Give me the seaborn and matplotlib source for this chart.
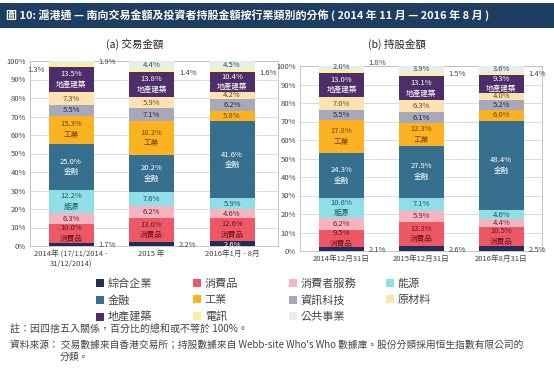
import numpy as np
import pandas as pd
import matplotlib
matplotlib.use("Agg")
import matplotlib.pyplot as plt
from matplotlib.patches import Patch, Rectangle
import seaborn as sns

sns.set_style("white")
plt.rcParams['font.family'] = ['Noto Sans CJK TC', 'DejaVu Sans']

# ---------------- data ----------------
sectors = ["綜合企業", "消費品", "消費者服務", "能源", "金融", "工業",
           "資訊科技", "原材料", "地產建築", "電訊", "公共事業"]

periods_a = ["2014年 (17/11/2014 -\n31/12/2014)", "2015 年", "2016年1月 - 8月"]
trade_2014 = [1.7, 10.0, 6.3, 12.2, 25.0, 15.3, 5.5, 7.3, 13.5, 1.9, 1.3]
trade_2015 = [2.2, 13.0, 6.2, 7.6, 20.2, 18.2, 7.1, 5.9, 13.8, 1.4, 4.4]
trade_2016 = [2.6, 12.6, 4.6, 5.9, 41.6, 5.8, 6.2, 4.2, 10.4, 1.6, 4.5]

periods_b = ["2014年12月31日", "2015年12月31日", "2016年8月31日"]
hold_2014 = [2.1, 9.5, 6.2, 10.8, 24.3, 17.8, 5.5, 7.0, 13.0, 1.8, 2.0]
hold_2015 = [2.6, 13.3, 5.9, 7.1, 27.9, 12.3, 6.1, 6.3, 13.1, 1.5, 3.9]
hold_2016 = [2.5, 10.5, 4.4, 4.6, 48.4, 6.0, 5.2, 4.0, 9.3, 1.4, 3.6]

yticks = [0, 10, 20, 30, 40, 50, 60, 70, 80, 90, 100]

# ---------------- style ----------------
colors = {
    "綜合企業": "#222c58", "消費品": "#ee5766", "消費者服務": "#f4b5c0",
    "能源": "#90dfe6", "金融": "#376f8f", "工業": "#fbb322",
    "資訊科技": "#a7a8ba", "原材料": "#fde3b2", "地產建築": "#4e2e6a",
    "電訊": "#fbf09c", "公共事業": "#e4efed",
}
label_colors = {
    "綜合企業": "#333333", "消費品": "#6a1320", "消費者服務": "#7a1c2c",
    "能源": "#1c5560", "金融": "white", "工業": "#6e4300",
    "資訊科技": "#2a2a4a", "原材料": "#6a4a10", "地產建築": "white",
    "電訊": "#444444", "公共事業": "#3a5050",
}
two_line = {"消費品", "能源", "金融", "工業", "地產建築"}

W, H = 554, 375
fig = plt.figure(figsize=(W / 100, H / 100), dpi=100)

# title banner
fig.patches.append(Rectangle((0, 1 - 28 / H), 1, 25 / H, transform=fig.transFigure,
                             facecolor="#1d3e60", edgecolor="none", zorder=0))
fig.text(6 / W, 1 - 15.5 / H,
         "圖 10: 滬港通 — 南向交易金額及投資者持股金額按行業類別的分佈 ( 2014 年 11 月 — 2016 年 8 月 )",
         color="white", fontsize=7.9, fontweight="bold", va="center", ha="left")
fig.text(135 / W, 1 - 44 / H, "(a) 交易金額", fontsize=7.6, ha="center", va="center", color="#222222")
fig.text(397 / W, 1 - 44 / H, "(b) 持股金額", fontsize=7.6, ha="center", va="center", color="#222222")


def panel(rect, periods, series, xlim, telecom_y, util_left, conglo_inside):
    ax = fig.add_axes(rect)
    df = pd.DataFrame(series, columns=sectors)
    df["period"] = periods
    cum = np.zeros(len(periods))
    for s in sectors:
        vals = df[s].to_numpy()
        sns.barplot(x=df["period"], y=vals, bottom=cum, color=colors[s], width=0.56,
                    errorbar=None, ax=ax, saturation=1, linewidth=0, zorder=3)
        for i, v in enumerate(vals):
            mid = cum[i] + v / 2
            txt = f"{v:.1f}%"
            if s == "綜合企業":
                if conglo_inside[i]:
                    ax.text(i, 0.6, txt, ha="center", va="center", fontsize=5.5, color="white", zorder=5)
                else:
                    ax.text(i + 0.34, 0.4, txt, ha="left", va="center", fontsize=5.5, color="#444444", zorder=5)
            elif s == "電訊":
                ax.text(i + 0.34, telecom_y[i], txt, ha="left", va="center", fontsize=5.5,
                        color="#444444", zorder=5)
            elif s == "公共事業":
                if util_left[i]:
                    ax.text(i - 0.33, 95.2, txt, ha="right", va="center", fontsize=5.5,
                            color="#444444", zorder=5)
                else:
                    ax.text(i, mid + 0.3, txt, ha="center", va="center", fontsize=5.5,
                            color=label_colors[s], zorder=5)
            elif s in two_line and v >= 9:
                ax.text(i, mid, f"{txt}\n{s}", ha="center", va="center", fontsize=5.5,
                        color=label_colors[s], linespacing=1.45, zorder=5)
            else:
                ax.text(i, mid, txt, ha="center", va="center", fontsize=5.5,
                        color=label_colors[s], zorder=5)
        cum = cum + vals
    ax.set_xlim(*xlim)
    ax.set_ylim(0, 100)
    ax.set_yticks(yticks)
    ax.set_yticklabels([f"{t}%" for t in yticks])
    ax.set_xlabel("")
    ax.set_ylabel("")
    ax.tick_params(axis="both", labelsize=5.5, colors="#444444", length=0, pad=3)
    ax.yaxis.grid(True, color="#d4d4d4", linewidth=0.6, zorder=0)
    ax.set_axisbelow(True)
    for sp in ax.spines.values():
        sp.set_color("#bdbdbd")
        sp.set_linewidth(0.6)
    return ax


panel([30 / W, 1 - 246 / H, 248 / W, 185 / H], periods_a,
      [trade_2014, trade_2015, trade_2016], (-0.51, 2.57),
      [99.5, 93.5, 93.5], [True, False, False], [False, False, True])
panel([300 / W, 1 - 251 / H, 242 / W, 185 / H], periods_b,
      [hold_2014, hold_2015, hold_2016], (-0.52, 2.51),
      [101.5, 95.7, 95.7], [False, False, False], [False, False, False])

# legend, one column at a time
col_x = [96, 193, 289, 386]
columns = [["綜合企業", "金融", "地產建築"], ["消費品", "工業", "電訊"],
           ["消費者服務", "資訊科技", "公共事業"], ["能源", "原材料"]]
for cx, names in zip(col_x, columns):
    handles = [Patch(facecolor=colors[n], edgecolor="none") for n in names]
    fig.legend(handles, names, loc="upper left", bbox_to_anchor=(cx / W, 1 - 278.5 / H),
               frameon=False, fontsize=8, handlelength=0.7, handleheight=0.7,
               handletextpad=0.35, labelspacing=0.55, borderpad=0, borderaxespad=0,
               labelcolor="#444444")

fig.text(10 / W, 1 - 329 / H, "註：因四捨五入關係，百分比的總和或不等於 100%。",
         fontsize=7.2, color="#444444", va="center")
fig.text(10 / W, 1 - 344.5 / H,
         "資料來源： 交易數據來自香港交易所；持股數據來自 Webb-site Who's Who 數據庫。股份分類採用恒生指數有限公司的",
         fontsize=7.0, color="#444444", va="center")
fig.text(60 / W, 1 - 357 / H, "分類。", fontsize=7.0, color="#444444", va="center")

fig.savefig("out.png", dpi=100)
